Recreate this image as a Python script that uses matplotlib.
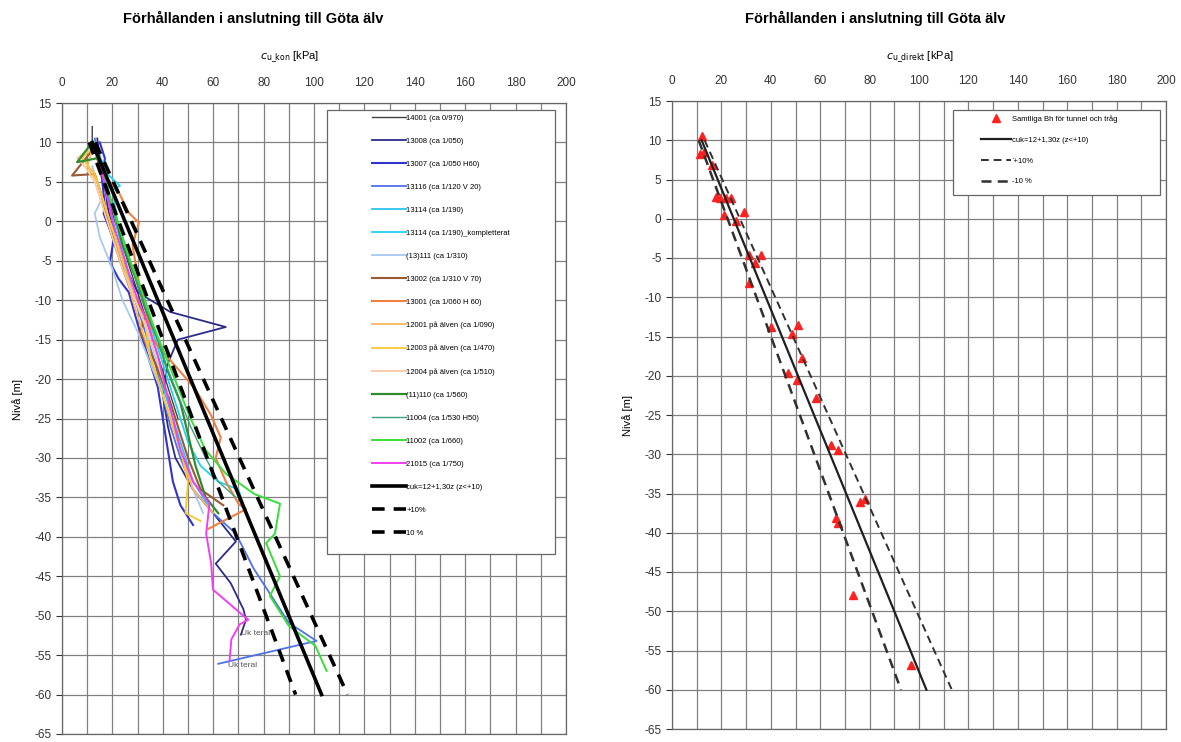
import matplotlib
matplotlib.use("Agg")
import matplotlib.pyplot as plt
from matplotlib.patches import Rectangle

plt.rcParams['font.family'] = ['Liberation Sans', 'DejaVu Sans']
plt.rcParams['axes.unicode_minus'] = False

# --- data -------------------------------------------------------------
titel = 'Förhållanden i anslutning till Göta älv'

# sonderingar, vänster diagram: (cu_kon [kPa], nivå [m])
s14001_cu = [12, 12, 14, 16, 19, 21, 24, 27, 31, 35, 39, 43, 46]
s14001_niva = [12, 10, 8, 5, 2, 0, -3, -6, -10, -14, -18, -22, -25]

s13008_cu = [14, 15, 17, 18, 20, 24, 30, 43, 65, 46, 42, 40, 42, 45, 52, 60, 69, 61, 67, 72, 73, 71]
s13008_niva = [10.5, 8, 5, 2, -1, -5, -9, -11.5, -13.4, -15, -18, -22, -26, -30, -34, -37, -40.6, -43.4, -45.9, -49.2, -50.5, -52.4]

s13007_cu = [15, 17, 16, 17, 16.5, 20.5, 19, 22.5, 26.5, 30, 34, 38, 40, 42, 44, 47, 52]
s13007_niva = [10, 8, 5, 2, 1, -2.3, -5.2, -7.3, -9, -13, -17, -21, -25, -29, -33, -36, -38.5]

s13116_cu = [13, 15, 18, 19, 21, 25, 29, 33, 37, 40, 43, 47, 52, 60, 69, 76, 90, 101, 62]
s13116_niva = [10.5, 8, 5, 2, -2, -6, -10, -14, -18, -22, -26, -30, -34, -37, -39.6, -44, -50.9, -53.2, -56.1]

s13114_cu = [12, 15, 17, 20, 22, 25, 28, 33, 37, 40, 44, 48, 52, 58]
s13114_niva = [10, 7, 5, 2, -1, -5, -9, -13, -17, -21, -25, -29, -33, -36]

s13114k_cu = [14, 18, 23, 20, 22, 26, 30, 34, 38, 42, 46, 50, 55, 62, 70, 72]
s13114k_niva = [9, 6, 4.5, 4, 0, -4, -8, -12, -16, -20, -24, -28, -31, -33, -34, -36]

s13111_cu = [12, 16, 13, 15, 20, 24, 30, 35, 40, 44, 48, 52, 56]
s13111_niva = [7, 3, 1, -2, -6, -10, -14, -18, -22, -26, -30, -34, -37]

s13002_cu = [12, 4, 13, 16, 19, 23, 27, 33, 31, 37, 42, 46, 50, 55, 64]
s13002_niva = [9, 5.8, 6, 3, -1, -5, -8.6, -12, -14, -18, -22, -26, -30, -34, -36]

s13001_cu = [13, 16, 22, 26.5, 30.5, 28, 30, 33, 36, 44, 52.5, 59, 63, 61, 65, 70, 73, 58]
s13001_niva = [9, 6, 4, 1.1, -0.2, -3, -7, -11, -15, -18, -21.1, -24.5, -27.4, -30, -33, -35.8, -36.5, -39]

s12001_cu = [12, 10, 14, 17, 21, 25, 28, 32, 36, 40, 44, 48, 52, 60]
s12001_niva = [9, 7, 5, 2, -2, -6, -10, -14, -18, -22, -26, -30, -34, -37]

s12003_cu = [11, 8, 13, 16, 20, 24, 28, 33, 35, 39, 43, 47, 50, 49, 55]
s12003_niva = [9, 8, 6, 3, -1, -5, -9, -13, -17, -21, -25, -29, -33, -37, -38]

s12004_cu = [10, 6, 9, 13, 16, 20, 24, 29, 34, 38, 42]
s12004_niva = [9, 8, 7, 5, 2, -2, -6, -10, -14, -18, -22]

s11110_cu = [12, 6, 14, 17, 21, 24, 29, 33, 38, 42, 47, 50, 53, 57, 62]
s11110_niva = [10, 7.5, 8, 5, 1, -3, -7, -11, -15, -19, -23, -27, -31, -35, -37]

s11004_cu = [13, 16, 20, 24, 28, 32, 37, 41, 46, 51, 57, 62, 69]
s11004_niva = [9, 6, 2, -2, -6, -10, -14, -18, -22, -26, -30, -33, -35]

s11002_cu = [13, 16, 19, 23, 27, 32, 36, 41, 46, 51, 57, 65, 76.5, 86.5, 84.5, 81, 86.5, 82.5, 90, 100.5, 105]
s11002_niva = [10, 7, 3, -1, -5, -9, -13, -17, -21, -25, -29, -32, -34.6, -35.8, -39.6, -40.8, -45, -47.5, -51.3, -53.8, -57]

s21015_cu = [14, 16, 18, 21, 25, 29, 34, 38, 41, 44, 47, 52, 58.5, 57.2, 59.2, 59.9, 71.2, 73.9, 70.5, 67.2, 66.5]
s21015_niva = [9, 6, 3, -1, -5, -9, -13, -17, -21, -25, -29, -33, -35.8, -39.6, -43.4, -46.7, -49.8, -50.5, -51.1, -53, -55.7]

serier = [
    ('14001 (ca 0/970)', s14001_cu, s14001_niva, '#404040', 1.0),
    ('13008 (ca 1/050)', s13008_cu, s13008_niva, '#2b2b8c', 1.3),
    ('13007 (ca 1/050 H60)', s13007_cu, s13007_niva, '#3333cc', 1.5),
    ('13116 (ca 1/120 V 20)', s13116_cu, s13116_niva, '#4f72e8', 1.3),
    ('13114 (ca 1/190)', s13114_cu, s13114_niva, '#2ec4f0', 1.3),
    ('13114 (ca 1/190)_kompletterat', s13114k_cu, s13114k_niva, '#22d0f0', 1.3),
    ('(13)111 (ca 1/310)', s13111_cu, s13111_niva, '#a8c8f0', 1.3),
    ('13002 (ca 1/310 V 70)', s13002_cu, s13002_niva, '#9a5a30', 1.5),
    ('13001 (ca 1/060 H 60)', s13001_cu, s13001_niva, '#f08040', 1.5),
    ('12001 på älven (ca 1/090)', s12001_cu, s12001_niva, '#f8b860', 1.3),
    ('12003 på älven (ca 1/470)', s12003_cu, s12003_niva, '#f8c830', 1.3),
    ('12004 på älven (ca 1/510)', s12004_cu, s12004_niva, '#f8c8a8', 1.3),
    ('(11)110 (ca 1/560)', s11110_cu, s11110_niva, '#2e8b2e', 1.6),
    ('11004 (ca 1/530 H50)', s11004_cu, s11004_niva, '#3aa080', 1.0),
    ('11002 (ca 1/660)', s11002_cu, s11002_niva, '#3ade3a', 1.4),
    ('21015 (ca 1/750)', s21015_cu, s21015_niva, '#f040f0', 1.4),
]

# direkta skjuvförsök, höger diagram
bh_cu = [12, 11.3, 13, 16, 18, 19.4, 22, 24, 21, 29, 26, 31, 36, 33.6, 31,
         40, 51, 48.5, 52.5, 47, 50.5, 58.3, 64.4, 67.3, 78, 76, 66.4, 67.3,
         73.4, 96.8]
bh_niva = [10.5, 8.3, 8.5, 6.8, 2.8, 2.6, 2.6, 2.6, 0.5, 0.8, -0.3, -4.6, -4.6, -5.6, -8.2,
           -13.8, -13.5, -14.7, -17.8, -19.6, -20.5, -22.8, -28.8, -29.4, -35.7, -36.1, -38.1, -38.8,
           -47.9, -56.9]

# linje cuk = 12 + 1,30z, z räknat från +10
linje_niva = [10, -60]
linje_cu = [12 + 1.30 * (10 - n) for n in linje_niva]
plus10_cu = [1.1 * c for c in linje_cu]
minus10_cu = [0.9 * c for c in linje_cu]

x_ticks = list(range(0, 201, 20))
y_ticks = list(range(15, -66, -5))

# --- figure ------------------------------------------------------------
fig = plt.figure(figsize=(11.81, 7.42), dpi=100)
W, H = 1181, 742


def ax_rect(x0, x1, y0, y1):
    return [x0 / W, 1 - y1 / H, (x1 - x0) / W, (y1 - y0) / H]


ax1 = fig.add_axes(ax_rect(62, 566, 103, 734))
ax2 = fig.add_axes(ax_rect(672, 1166, 101, 729))


def styla(ax):
    ax.set_xlim(0, 200)
    ax.set_ylim(-65, 15)
    ax.set_xticks(x_ticks)
    ax.set_xticks(range(0, 201, 10), minor=True)
    ax.set_yticks(y_ticks)
    ax.xaxis.tick_top()
    ax.tick_params(axis='x', which='both', length=0, labelsize=8.5, pad=10, colors='#333333')
    ax.tick_params(axis='y', length=4, labelsize=8.5, colors='#333333', width=0.8)
    ax.grid(True, which='both', color='#808080', linewidth=0.9)
    for s in ax.spines.values():
        s.set_color('#666666')
        s.set_linewidth(0.9)
    ax.set_axisbelow(True)


styla(ax1)
styla(ax2)

# vänster: konförsök
for namn, cu, niva, farg, lw in serier:
    ax1.plot(cu, niva, color=farg, linewidth=lw, label=namn)
ax1.plot(linje_cu, linje_niva, color='black', linewidth=2.6, label='cuk=12+1,30z (z<+10)')
ax1.plot(plus10_cu, linje_niva, color='black', linewidth=2.6, dashes=(3.5, 2.5), label='+10%')
ax1.plot(minus10_cu, linje_niva, color='black', linewidth=2.6, dashes=(3.5, 2.5), label='10 %')
ax1.text(71, -52.2, 'Uk teral', fontsize=6, color='#555555', va='center')
ax1.text(66, -56.3, 'Uk teral', fontsize=6, color='#555555', va='center')

ax1.add_patch(Rectangle((0.526, 0.285), 0.452, 0.704, transform=ax1.transAxes,
                        facecolor='white', edgecolor='#666666', linewidth=0.9, zorder=5))
ax1.legend(loc='upper left', bbox_to_anchor=(0.615, 0.982), frameon=False, fontsize=5.5,
           labelspacing=2.05, handlelength=4.4, handletextpad=0.1, borderpad=0,
           borderaxespad=0).set_zorder(6)

# höger: direkta skjuvförsök
ax2.plot(bh_cu, bh_niva, linestyle='none', marker='^', markersize=6, color='#ff2020',
         label='Samtliga Bh för tunnel och tråg')
ax2.plot(linje_cu, linje_niva, color='#202020', linewidth=1.6, label='cuk=12+1,30z (z<+10)')
ax2.plot(plus10_cu, linje_niva, color='#303030', linewidth=1.4, dashes=(4, 2.5), label='`+10%')
ax2.plot(minus10_cu, linje_niva, color='#303030', linewidth=1.8, dashes=(4, 2.5), label='-10 %')
ax2.add_patch(Rectangle((0.569, 0.850), 0.419, 0.136, transform=ax2.transAxes,
                        facecolor='white', edgecolor='#666666', linewidth=0.9, zorder=5))
ax2.legend(loc='upper left', bbox_to_anchor=(0.625, 0.977), frameon=False, fontsize=5.5,
           labelspacing=1.75, handlelength=4.0, handletextpad=0.1, borderpad=0,
           borderaxespad=0).set_zorder(6)

# rubriker och axeltitlar
fig.text(253 / W, 1 - 18 / H, titel, ha='center', va='center', fontsize=10.5, fontweight='bold')
fig.text(875 / W, 1 - 18 / H, titel, ha='center', va='center', fontsize=10.5, fontweight='bold')
fig.text(290 / W, 1 - 57 / H, r'$c_{\mathrm{u\_kon}}$ [kPa]', ha='center', va='center', fontsize=8)
fig.text(920 / W, 1 - 57 / H, r'$c_{\mathrm{u\_direkt}}$ [kPa]', ha='center', va='center', fontsize=8)
fig.text(18 / W, 1 - 400 / H, 'Nivå [m]', rotation=90, ha='center', va='center', fontsize=8)
fig.text(628 / W, 1 - 415 / H, 'Nivå [m]', rotation=90, ha='center', va='center', fontsize=8)

fig.savefig('out.png', dpi=100, facecolor='white')
